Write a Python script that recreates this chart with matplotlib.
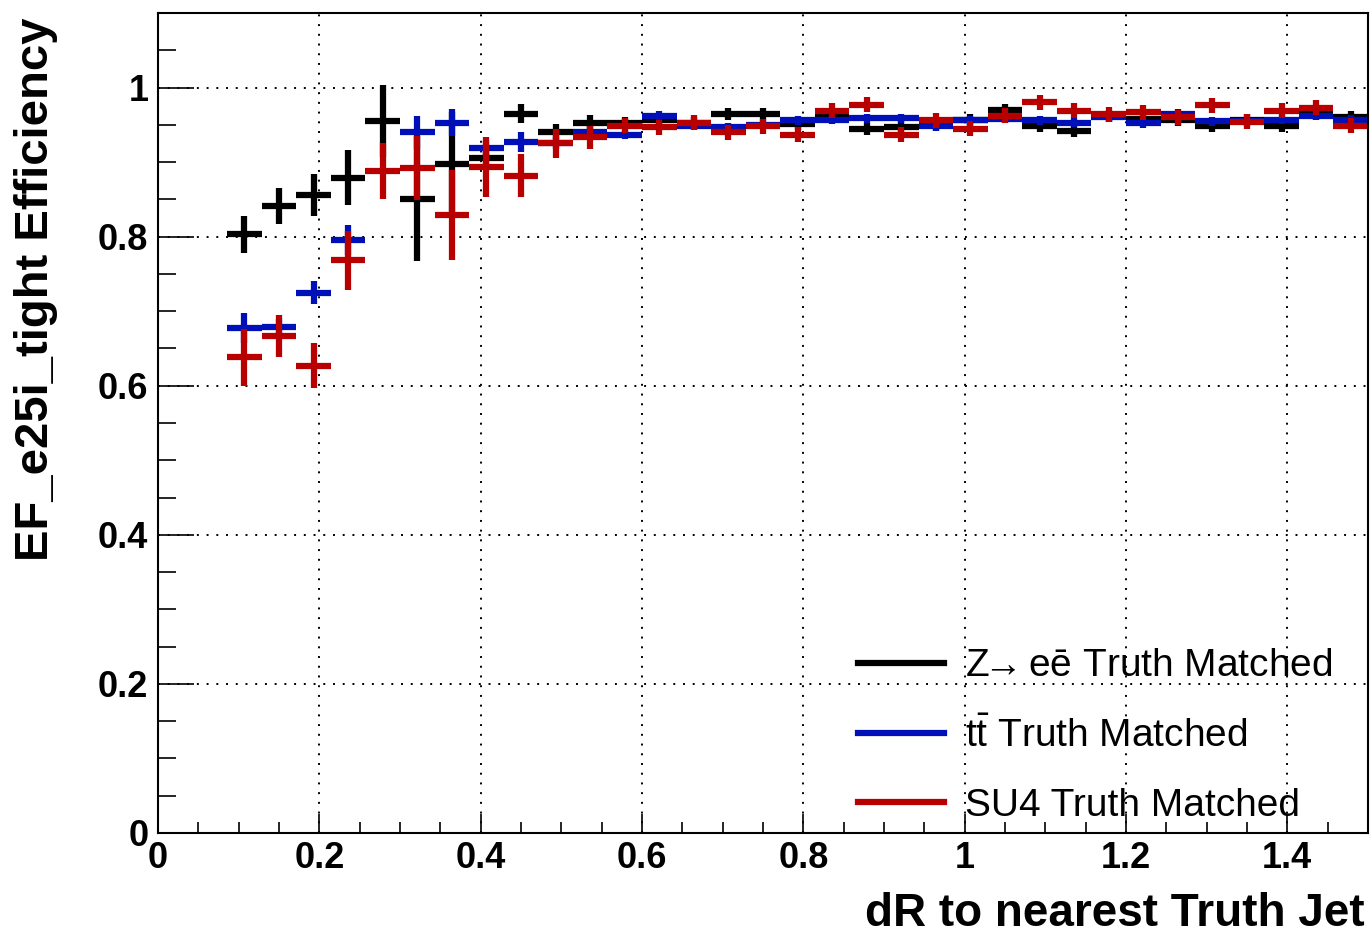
import numpy as np
import matplotlib
matplotlib.use("Agg")
import matplotlib.pyplot as plt
from matplotlib.lines import Line2D
from matplotlib.ticker import MultipleLocator

plt.rcParams["font.family"] = ["Liberation Sans", "DejaVu Sans"]
plt.rcParams["mathtext.fontset"] = "custom"
plt.rcParams["mathtext.rm"] = "Liberation Sans"

# ── binning: 35 bins in dR from 0 to 1.5, data start at bin 2 ──
n_bins, dr_lo, dr_hi = 35, 0.0, 1.5
first_bin = 2

# ── efficiencies per bin (bins 2..34) ──
eff_zee = [0.803, 0.841, 0.856, 0.879, 0.955, 0.851, 0.897, 0.905, 0.965, 0.941,
           0.953, 0.952, 0.956, 0.953, 0.964, 0.964, 0.951, 0.962, 0.945, 0.947,
           0.950, 0.957, 0.970, 0.949, 0.942, 0.962, 0.958, 0.956, 0.948, 0.956,
           0.949, 0.964, 0.961]
err_zee = [0.025, 0.024, 0.028, 0.037, 0.048, 0.084, 0.070, 0.012, 0.013, 0.010,
           0.010, 0.008, 0.008, 0.008, 0.008, 0.008, 0.008, 0.008, 0.008, 0.008,
           0.008, 0.008, 0.008, 0.008, 0.008, 0.008, 0.008, 0.008, 0.008, 0.008,
           0.008, 0.008, 0.008]

eff_tt = [0.677, 0.679, 0.725, 0.795, np.nan, 0.940, 0.953, 0.919, 0.927, 0.925,
          0.940, 0.937, 0.962, 0.949, 0.947, 0.950, 0.956, 0.957, 0.959, 0.959,
          0.948, 0.956, 0.958, 0.956, 0.953, 0.960, 0.952, 0.965, 0.955, 0.955,
          0.957, 0.962, 0.957]
err_tt = [0.020, 0.010, 0.016, 0.020, np.nan, 0.022, 0.018, 0.010, 0.013, 0.008,
          0.008, 0.006, 0.006, 0.006, 0.006, 0.006, 0.006, 0.006, 0.006, 0.006,
          0.006, 0.006, 0.006, 0.006, 0.006, 0.006, 0.006, 0.006, 0.006, 0.006,
          0.006, 0.006, 0.006]

eff_su4 = [0.638, 0.667, 0.627, 0.768, 0.888, 0.892, 0.829, 0.893, 0.882, 0.925,
           0.933, 0.949, 0.947, 0.953, 0.940, 0.948, 0.937, 0.969, 0.977, 0.937,
           0.956, 0.945, 0.962, 0.980, 0.969, 0.964, 0.967, 0.960, 0.976, 0.954,
           0.969, 0.973, 0.949]
err_su4 = [0.038, 0.028, 0.030, 0.040, 0.037, 0.043, 0.060, 0.040, 0.029, 0.020,
           0.015, 0.010, 0.010, 0.010, 0.010, 0.010, 0.010, 0.010, 0.010, 0.010,
           0.010, 0.010, 0.010, 0.010, 0.010, 0.010, 0.010, 0.010, 0.010, 0.010,
           0.010, 0.010, 0.010]

labels = [r"Z$\!\!\rightarrow\!\!$ e\u0113 Truth Matched",
          r"t$\bar{\mathrm{t}}$ Truth Matched",
          "SU4 Truth Matched"]
labels[0] = labels[0].replace("\\u0113", "\u0113")
colors = ["black", "#0010b8", "#b80000"]

edges = np.linspace(dr_lo, dr_hi, n_bins + 1)
centers = 0.5 * (edges[:-1] + edges[1:])[first_bin:]
half_w = 0.5 * (edges[1] - edges[0])

# ── figure ──
fig = plt.figure(figsize=(13.72, 9.36), dpi=100)
ax = fig.add_axes([158/1372, 1 - 833/936, 1210/1372, 820/936])

lw = 4.5
for eff, err, c in zip([eff_zee, eff_tt, eff_su4], [err_zee, err_tt, err_su4], colors):
    ax.errorbar(centers, eff, yerr=err, xerr=half_w, fmt="none",
                ecolor=c, elinewidth=lw, capsize=0)

ax.set_xlim(dr_lo, dr_hi)
ax.set_ylim(0, 1.1)
ax.xaxis.set_major_locator(MultipleLocator(0.2))
ax.xaxis.set_minor_locator(MultipleLocator(0.05))
ax.yaxis.set_major_locator(MultipleLocator(0.2))
ax.yaxis.set_minor_locator(MultipleLocator(0.05))
ax.set_xticks(np.arange(0, 1.41, 0.2), ["0", "0.2", "0.4", "0.6", "0.8", "1", "1.2", "1.4"])
ax.set_yticks(np.arange(0, 1.01, 0.2), ["0", "0.2", "0.4", "0.6", "0.8", "1"])

ax.grid(True, which="major", color="black", linestyle=(0, (1, 4)), linewidth=1.4)
for s in ax.spines.values():
    s.set_linewidth(1.5)

ax.tick_params(axis="both", which="both", direction="in", width=1.2,
               top=False, right=False, labelsize=26)
ax.tick_params(axis="y", which="major", length=26, pad=7)
ax.tick_params(axis="y", which="minor", length=13)
ax.tick_params(axis="x", which="major", length=14, pad=6)
ax.tick_params(axis="x", which="minor", length=8)
for t in ax.get_xticklabels() + ax.get_yticklabels():
    t.set_fontweight("bold")

ax.set_xlabel("dR to nearest Truth Jet", fontsize=33, fontweight="bold", loc="right")
ax.xaxis.set_label_coords(0.997, -0.072)
ax.set_ylabel("EF_e25i_tight Efficiency", fontsize=34, fontweight="bold", loc="top")
ax.yaxis.set_label_coords(-0.083, 0.994)

handles = [Line2D([], [], color=c, lw=lw) for c in colors]
ax.legend(handles, labels, loc="upper left", bbox_to_anchor=(0.5785, 0.225),
          frameon=False, fontsize=28, handlelength=2.2, handletextpad=0.55,
          labelspacing=0.85, borderpad=0, borderaxespad=0)

fig.savefig("out.png", dpi=100)
